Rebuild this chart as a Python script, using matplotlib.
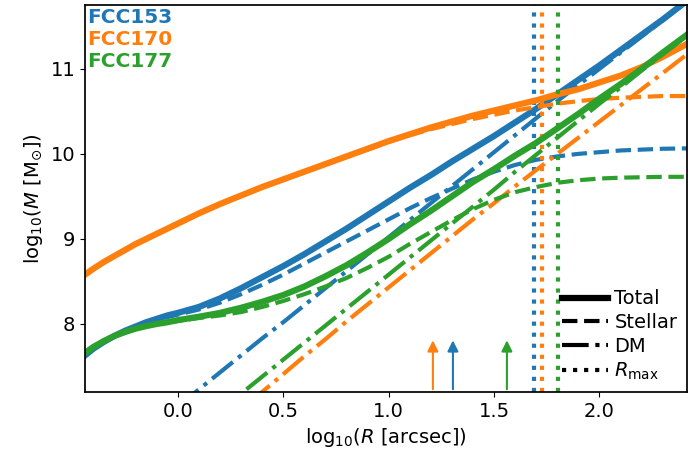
import numpy as np
import matplotlib
matplotlib.use('Agg')
import matplotlib.pyplot as plt

plt.rcParams['font.size'] = 14

# log10(R) grid shared by the total / stellar curves
log_r = [-0.44, -0.4, -0.35, -0.3, -0.25, -0.2, -0.15, -0.1, -0.05,
         0.0, 0.1, 0.2, 0.3, 0.4, 0.5, 0.6, 0.7, 0.8, 0.9,
         1.0, 1.1, 1.2, 1.3, 1.4, 1.5, 1.6, 1.7, 1.8, 1.9, 2.0, 2.1, 2.2, 2.3, 2.42]
# DM curves only shown where they enter the panel
log_r_dm = [0.0, 0.1, 0.2, 0.3, 0.4, 0.5, 0.6, 0.7, 0.8, 0.9, 1.0, 1.1, 1.2, 1.3,
            1.4, 1.5, 1.6, 1.7, 1.8, 1.9, 2.0, 2.1, 2.2, 2.3, 2.42]

names = ['FCC153', 'FCC170', 'FCC177']

# FCC153
tot_153 = [7.63, 7.71, 7.79, 7.86, 7.92, 7.97, 8.02, 8.06, 8.1,
           8.13, 8.2, 8.3, 8.42, 8.55, 8.68, 8.82, 8.97, 9.12, 9.28,
           9.44, 9.6, 9.75, 9.91, 10.06, 10.21, 10.37, 10.53, 10.7, 10.87, 11.04, 11.22, 11.4, 11.58, 11.81]
star_153 = [7.63, 7.71, 7.79, 7.86, 7.92, 7.97, 8.01, 8.05, 8.08,
            8.11, 8.17, 8.25, 8.35, 8.46, 8.58, 8.71, 8.84, 8.97, 9.1,
            9.23, 9.36, 9.48, 9.59, 9.7, 9.79, 9.87, 9.93, 9.97, 10.0, 10.02, 10.04, 10.05, 10.06, 10.065]
dm_153 = [7.03, 7.23, 7.43, 7.63, 7.83, 8.02, 8.22, 8.42, 8.62, 8.82, 9.02, 9.22, 9.42, 9.62,
          9.82, 10.02, 10.22, 10.42, 10.62, 10.81, 11.0, 11.19, 11.38, 11.57, 11.8]

# FCC170
tot_170 = [8.58, 8.65, 8.73, 8.8, 8.87, 8.94, 9.0, 9.06, 9.12,
           9.18, 9.3, 9.41, 9.51, 9.61, 9.7, 9.79, 9.88, 9.97, 10.06,
           10.15, 10.23, 10.31, 10.38, 10.45, 10.51, 10.57, 10.63, 10.7, 10.76, 10.84, 10.92, 11.02, 11.14, 11.3]
star_170 = [8.58, 8.65, 8.73, 8.8, 8.87, 8.94, 9.0, 9.06, 9.12,
            9.18, 9.3, 9.41, 9.51, 9.61, 9.7, 9.79, 9.88, 9.97, 10.05,
            10.14, 10.22, 10.29, 10.35, 10.41, 10.46, 10.51, 10.55, 10.59, 10.62, 10.645, 10.66, 10.67, 10.68, 10.68]
dm_170 = [6.4, 6.6, 6.8, 7.0, 7.2, 7.41, 7.62, 7.82, 8.03, 8.23, 8.43, 8.63, 8.83, 9.03,
          9.23, 9.42, 9.62, 9.81, 10.0, 10.19, 10.38, 10.57, 10.76, 10.95, 11.18]

# FCC177
tot_177 = [7.66, 7.73, 7.8, 7.86, 7.905, 7.945, 7.975, 8.0, 8.02,
           8.045, 8.085, 8.13, 8.19, 8.26, 8.34, 8.44, 8.56, 8.69, 8.84,
           9.0, 9.17, 9.33, 9.5, 9.67, 9.82, 9.98, 10.13, 10.3, 10.47, 10.65, 10.82, 11.0, 11.19, 11.41]
star_177 = [7.66, 7.73, 7.8, 7.86, 7.905, 7.945, 7.975, 8.0, 8.02,
            8.035, 8.07, 8.1, 8.14, 8.2, 8.27, 8.35, 8.44, 8.54, 8.66,
            8.79, 8.94, 9.08, 9.22, 9.35, 9.46, 9.55, 9.61, 9.66, 9.69, 9.71, 9.72, 9.725, 9.73, 9.73]
dm_177 = [6.58, 6.78, 6.98, 7.18, 7.38, 7.58, 7.78, 7.98, 8.18, 8.38, 8.58, 8.78, 8.98, 9.18,
          9.38, 9.58, 9.79, 9.99, 10.19, 10.39, 10.59, 10.78, 10.98, 11.17, 11.4]

# R_max (dotted verticals) and arrow positions, log10(R)
r_max = [1.689, 1.727, 1.803]
r_arrow = [1.305, 1.21, 1.561]

totals = [tot_153, tot_170, tot_177]
stellars = [star_153, star_170, star_177]
dms = [dm_153, dm_170, dm_177]
colors = ['C0', 'C1', 'C2']

fig = plt.figure(figsize=(7, 4.57), dpi=100)
ax = fig.add_axes([0.1214, 0.1422, 0.86, 0.8468])

for i in range(3):
    c = colors[i]
    ax.plot(log_r, totals[i], color=c, lw=4.5, ls='-')
    ax.plot(log_r, stellars[i], color=c, lw=3, ls='--')
    ax.plot(log_r_dm, dms[i], color=c, lw=3, ls='-.')
    ax.axvline(r_max[i], color=c, lw=3, ls=':')
    ax.annotate('', xy=(r_arrow[i], 7.84), xytext=(r_arrow[i], 7.2),
                arrowprops=dict(arrowstyle='-|>', color=c, lw=1.5, mutation_scale=16))

ax.set_xlim(-0.44, 2.415)
ax.set_ylim(7.2, 11.75)
ax.set_xticks([0.0, 0.5, 1.0, 1.5, 2.0])
ax.set_yticks([8, 9, 10, 11])
ax.set_xlabel(r'log$_{10}$($R$ [arcsec])')
ax.set_ylabel(r'log$_{10}$($M$ [M$_{\odot}$])')
for s in ax.spines.values():
    s.set_linewidth(1.25)

# galaxy names, top-left
ypos = [0.969, 0.910, 0.853]
for i in range(3):
    ax.text(0.004, ypos[i], names[i], transform=ax.transAxes, color=colors[i],
            fontweight='bold', fontsize=14.5, va='center', ha='left')

# black style legend
h = [plt.Line2D([], [], color='k', lw=4.5, ls='-'),
     plt.Line2D([], [], color='k', lw=3, ls='--'),
     plt.Line2D([], [], color='k', lw=3, ls='-.'),
     plt.Line2D([], [], color='k', lw=3, ls=':')]
ax.legend(h, ['Total', 'Stellar', 'DM', r'$R_{\rm max}$'], loc='lower right',
          frameon=False, handlelength=2.4, handletextpad=0.3, labelspacing=0.25,
          borderaxespad=0.1, fontsize=14)

fig.savefig('out.png', dpi=100)
